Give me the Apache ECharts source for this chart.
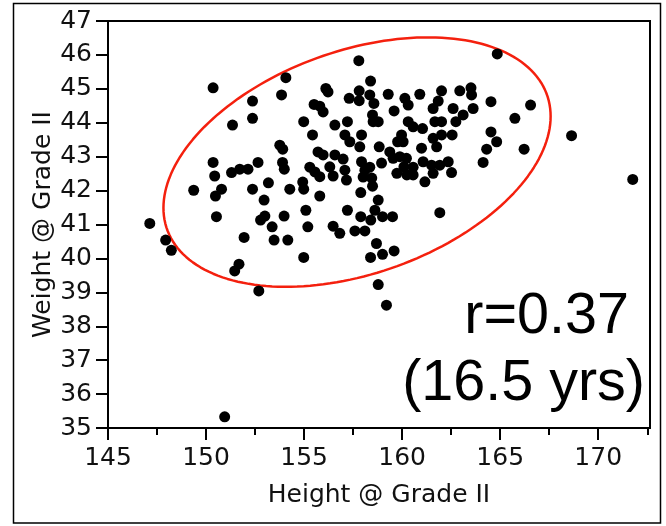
<!DOCTYPE html>
<html><head><meta charset="utf-8">
<script src="https://cdn.jsdelivr.net/npm/echarts@6/dist/echarts.min.js"></script>
<style>html,body{margin:0;padding:0;background:#fff}#c{width:666px;height:526px}</style>
</head><body><div id="c"></div>
<script>
const heights = [
150.36,154.07,153.85,152.37,152.37,151.35,153.76,153.91,150.36,152.65,
153.90,153.99,151.30,151.72,152.14,150.44,153.18,149.37,150.79,150.48,
152.37,154.27,152.96,150.53,153.00,152.78,153.98,147.13,153.37,151.94,
153.47,154.17,147.94,148.23,151.68,151.46,152.69,150.95,
157.79,158.39,156.11,156.22,157.81,157.81,157.30,158.35,158.56,159.29,
160.14,160.31,160.90,162.01,162.94,163.51,163.54,161.84,161.58,162.60,
163.62,163.11,155.51,155.80,155.97,154.98,156.57,157.21,158.49,158.52,
158.78,159.59,160.31,160.56,161.04,161.67,162.01,162.74,155.43,157.08,
157.33,157.84,157.93,159.97,160.05,159.77,158.83,161.58,161.76,162.01,
162.55,160.99,
155.71,155.97,156.57,156.99,155.29,155.55,155.80,156.31,156.48,157.08,
157.16,157.93,158.10,158.01,158.35,158.45,158.95,159.37,159.54,159.88,
160.22,160.09,160.56,159.73,160.24,160.56,161.07,161.50,161.92,162.35,
162.52,161.58,154.93,161.16,164.13,154.98,155.80,158.49,157.89,158.78,
158.61,155.09,157.21,157.89,158.40,159.00,159.51,161.92,155.19,156.48,
156.82,157.59,158.10,158.69,154.98,158.39,159.00,159.59,158.78,159.20,
164.85,164.53,166.55,165.75,164.53,164.82,164.31,166.22,168.64,171.76
];
const weights = [
45.03,45.33,44.82,44.64,44.13,43.93,43.34,43.22,42.83,42.83,
42.83,42.63,42.53,42.63,42.63,42.43,42.23,42.01,42.04,41.84,
42.04,42.04,41.72,41.23,41.25,41.13,41.25,41.03,40.93,40.62,
40.54,40.54,40.54,40.24,39.83,39.63,39.04,35.33,
45.83,45.23,45.01,44.91,44.94,44.65,44.72,44.82,44.57,44.84,
44.72,44.52,44.84,44.94,44.94,45.03,44.82,44.64,44.42,44.42,
44.42,44.23,44.54,44.49,44.32,44.03,43.93,44.03,44.23,44.03,
44.03,44.35,44.03,43.88,43.83,44.03,44.03,44.03,43.64,43.64,
43.44,43.29,43.64,43.64,43.44,43.44,43.29,43.54,43.29,43.64,
43.64,43.25,
43.14,43.05,43.05,42.93,42.69,42.55,42.41,42.70,42.43,42.60,
42.31,42.85,42.60,42.40,42.69,42.37,42.81,43.14,42.95,43.00,
42.95,42.70,42.69,42.51,42.46,42.46,42.85,42.75,42.75,42.85,
42.53,42.51,42.25,42.26,42.83,42.04,41.84,42.13,41.94,41.72,
41.42,41.42,41.42,41.23,41.13,41.23,41.23,41.35,40.93,40.95,
40.74,40.81,40.81,40.44,40.03,40.03,40.12,40.22,39.23,38.62,
46.03,44.62,44.52,44.13,43.73,43.44,43.22,43.22,43.62,42.33
];
const xTicks = [145, 150, 155, 160, 165, 170];
const xMinorTicks = [147.5, 152.5, 157.5, 162.5, 167.5, 172.5];
const xRange = [145, 172.64];
const yRange = [35, 47];
// density ellipse: centre and covariance-like matrix [sxx, syy, sxy]
const ellipseCenter = [157.7, 42.84];
const ellipseCov = [97.46, 13.52, 13.32];
const xTitle = 'Height @ Grade II';
const yTitle = 'Weight @ Grade II';
const annotation = ['r=0.37', '(16.5 yrs)'];

const points = heights.map((h, i) => [h, weights[i]]);
const L11 = Math.sqrt(ellipseCov[0]);
const L21 = ellipseCov[2] / L11;
const L22 = Math.sqrt(ellipseCov[1] - L21 * L21);
const ellipsePts = [];
for (let k = 0; k <= 180; k++) {
  const t = k / 180 * 2 * Math.PI;
  ellipsePts.push([ellipseCenter[0] + L11 * Math.cos(t),
                   ellipseCenter[1] + L21 * Math.cos(t) + L22 * Math.sin(t)]);
}

const FONT = 'DejaVu Sans';
const chart = echarts.init(document.getElementById('c'), null, {renderer: 'canvas'});
chart.setOption({
  animation: false,
  backgroundColor: '#fff',
  grid: {left: 108, top: 21, width: 542, height: 407, show: true, borderColor: '#000', borderWidth: 2, containLabel: false},
  xAxis: [{
    type: 'value', min: xRange[0], max: xRange[1], interval: 5,
    name: xTitle, nameLocation: 'middle', nameGap: 55, nameMoveOverlap: false,
    nameTextStyle: {fontFamily: FONT, fontSize: 25, color: '#111'},
    axisLine: {show: true, onZero: false, lineStyle: {color: '#000', width: 2}},
    axisTick: {show: true, inside: false, length: 12, lineStyle: {color: '#000', width: 2}, customValues: xTicks},
    axisLabel: {show: true, margin: 18, fontFamily: FONT, fontSize: 25, color: '#111', customValues: xTicks,
      formatter: v => (Math.abs(v % 5) < 1e-6 ? String(v) : '')},
    splitLine: {show: false}
  }, {
    type: 'value', min: xRange[0], max: xRange[1], position: 'bottom', gridIndex: 0,
    axisLine: {show: false},
    axisTick: {show: true, inside: false, length: 7, lineStyle: {color: '#000', width: 2}, customValues: xMinorTicks},
    axisLabel: {show: false},
    splitLine: {show: false}
  }],
  yAxis: {
    type: 'value', min: yRange[0], max: yRange[1], interval: 1,
    name: yTitle, nameLocation: 'middle', nameGap: 52, nameRotate: 90, nameMoveOverlap: false,
    nameTextStyle: {fontFamily: FONT, fontSize: 25, color: '#111'},
    axisLine: {show: true, onZero: false, lineStyle: {color: '#000', width: 2}},
    axisTick: {show: true, inside: false, length: 12, lineStyle: {color: '#000', width: 2}},
    axisLabel: {show: true, margin: 16, fontFamily: FONT, fontSize: 25, color: '#111'},
    splitLine: {show: false}
  },
  series: [{
    type: 'line', data: ellipsePts, showSymbol: false, symbol: 'none', smooth: false,
    lineStyle: {color: '#f4200e', width: 2.5}, z: 1, silent: true
  }, {
    type: 'scatter', data: points, symbol: 'circle', symbolSize: 11,
    itemStyle: {color: '#000', opacity: 1}, z: 2
  }],
  graphic: [
    {type: 'rect', shape: {x: 13.5, y: 3.5, width: 647, height: 519.5}, style: {fill: 'none', stroke: '#000', lineWidth: 1.5}, silent: true},
    {type: 'text', x: 629, y: 317, style: {text: annotation[0], font: '57.5px "Liberation Sans", Arial, sans-serif', fill: '#000', align: 'right', verticalAlign: 'middle', textAlign: 'right', textVerticalAlign: 'middle'}},
    {type: 'text', x: 645, y: 384, style: {text: annotation[1], font: '57.5px "Liberation Sans", Arial, sans-serif', fill: '#000', align: 'right', verticalAlign: 'middle', textAlign: 'right', textVerticalAlign: 'middle'}}
  ]
});
</script></body></html>
